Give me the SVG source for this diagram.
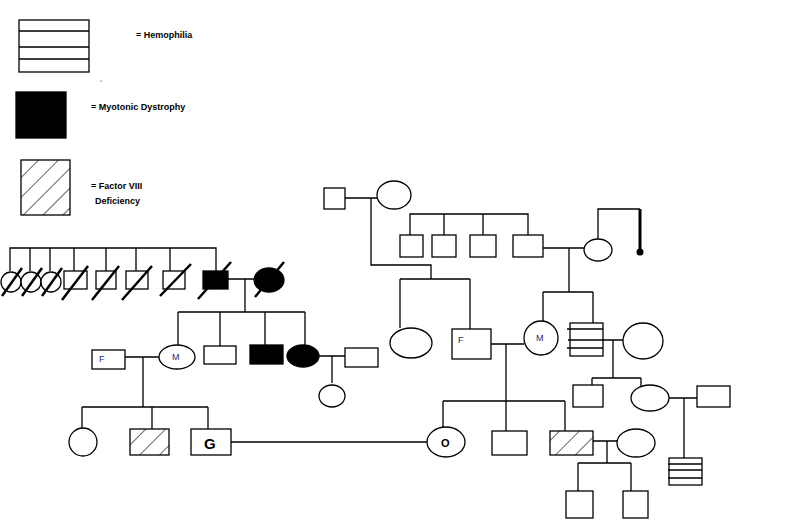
<svg xmlns="http://www.w3.org/2000/svg" width="792" height="526" viewBox="0 0 792 526">
<style>
.s{fill:#fff;stroke:#000;stroke-width:1.3}
.b{fill:#000;stroke:#000;stroke-width:1.3}
.h{fill:url(#hatch);stroke:#000;stroke-width:1.3}
.l{fill:none;stroke:#000;stroke-width:1.3}
.x{stroke:#000;stroke-width:2.5}
.t{font-family:"Liberation Sans",Arial,sans-serif;font-weight:bold;font-size:9px;fill:#000}
.q{font-family:"Liberation Sans",Arial,sans-serif;font-size:9px;fill:#1a2a7a}
</style>
<defs>
<pattern id="hatch" patternUnits="userSpaceOnUse" width="14" height="14" patternTransform="rotate(45)">
<rect width="14" height="14" fill="#fff"/>
<line x1="0" y1="0" x2="0" y2="14" stroke="#000" stroke-width="1.2"/>
</pattern>
</defs>
<g id="legend">
<rect class="s" x="19" y="20" width="70" height="52"/>
<path class="l" d="M19 31H89M19 47H89M19 59H89"/>
<text class="t" x="136" y="38">= Hemophilia</text>
<circle cx="101" cy="81" r="0.6" fill="#000"/>
<rect class="b" x="16" y="92" width="50" height="46"/>
<text class="t" x="91" y="110">= Myotonic Dystrophy</text>
<rect class="h" x="21" y="160" width="49" height="55"/>
<text class="t" x="91" y="189">= Factor VIII</text>
<text class="t" x="95" y="204">Deficiency</text>
</g>
<g id="connectors">
<path class="l" d="M10 271V248H216V271M30 248V271M50 248V271M74 248V271M106 248V271M136 248V271M170 248V271"/>
<path class="l" d="M228 279H254M245 279V312M178 312H305M178 312V345M220 312V346M265 312V345M305 312V345"/>
<path class="l" d="M319 356H345M332 356V383"/>
<path class="l" d="M125 357H159M143 357V407M82 407H208M82 407V428M152 407V429M208 407V429"/>
<path class="l" d="M231 442H427"/>
<path class="l" d="M345 198H377M371 198V265H431V279M400 279H470M400 279V328M470 279V329"/>
<path class="l" d="M410 235V214H528V235M444 214V235M483 214V235"/>
<path class="l" d="M543 248H584M569 248V292M543 292H593M543 292V321M593 292V323"/>
<path class="l" d="M598 239V209H640"/>
<line x1="640" y1="209" x2="640" y2="252" stroke="#000" stroke-width="3"/>
<circle cx="640" cy="252" r="3.5" fill="#000"/>
<path class="l" d="M603 340H623M613 340V378M592 378H641M592 378V385M641 378V386"/>
<path class="l" d="M669 398H697M684 398V458"/>
<path class="l" d="M491 344H524M506 344V401M443 401H565M443 401V427M506 401V431M565 401V431"/>
<path class="l" d="M593 441H617M607 441V463M578 463H631M578 463V491M631 463V491"/>
</g>
<g id="left-sibs">
<circle class="s" cx="11" cy="282" r="10"/>
<circle class="s" cx="31" cy="282" r="10"/>
<circle class="s" cx="51" cy="282" r="10"/>
<rect class="s" x="64" y="271" width="23" height="18"/>
<rect class="s" x="96" y="271" width="20" height="18"/>
<rect class="s" x="126" y="271" width="22" height="18"/>
<rect class="s" x="163" y="271" width="22" height="18"/>
<path class="x" d="M2 296L22 268M22 296L42 268M42 296L62 268M62 300L88 266M92 300L119 266M122 300L152 266M160 296L191 264"/>
</g>
<g id="gp-left">
<rect class="b" x="203" y="271" width="25" height="18"/>
<path class="x" d="M198 299L231 262"/>
<ellipse class="b" cx="269" cy="280" rx="15" ry="12"/>
<path class="x" d="M255 297L284 262"/>
</g>
<g id="gen2-left">
<ellipse class="s" cx="177" cy="357" rx="18" ry="12"/><text class="q" x="172" y="360" font-size="8">M</text>
<rect class="s" x="204" y="346" width="32" height="18"/>
<rect class="b" x="250" y="345" width="33" height="19"/>
<ellipse class="b" cx="303" cy="356" rx="16" ry="11"/>
<rect class="s" x="345" y="348" width="33" height="19"/>
<ellipse class="s" cx="332" cy="396" rx="13" ry="11"/>
<rect class="s" x="92" y="350" width="33" height="19"/><text class="q" x="99" y="362" font-size="8">F</text>
</g>
<g id="gen3-left">
<circle class="s" cx="83" cy="442" r="14"/>
<rect class="h" x="130" y="429" width="39" height="26"/>
<rect class="s" x="191" y="429" width="40" height="26"/>
<text x="204" y="449" font-family="Liberation Sans,Arial,sans-serif" font-weight="bold" font-size="15">G</text>
</g>
<g id="top-right">
<rect class="s" x="324" y="188" width="21" height="21"/>
<ellipse class="s" cx="394" cy="195" rx="17" ry="14"/>
<rect class="s" x="400" y="235" width="23" height="22"/>
<rect class="s" x="432" y="235" width="24" height="22"/>
<rect class="s" x="470" y="235" width="26" height="22"/>
<rect class="s" x="513" y="235" width="30" height="22"/>
<ellipse class="s" cx="598" cy="250" rx="14" ry="11"/>
</g>
<g id="gen2-right">
<ellipse class="s" cx="411" cy="343" rx="21" ry="15"/>
<rect class="s" x="452" y="329" width="39" height="30"/><text class="q" x="458" y="343">F</text>
<circle class="s" cx="541" cy="338" r="17"/><text class="q" x="536" y="341">M</text>
<rect class="s" x="570" y="323" width="33" height="33"/>
<path class="l" d="M567 329H603M568 340H603M567 348H603"/>
<ellipse class="s" cx="643" cy="341" rx="20" ry="18"/>
<rect class="s" x="573" y="385" width="30" height="22"/>
<ellipse class="s" cx="650" cy="398" rx="19" ry="13"/>
<rect class="s" x="697" y="386" width="33" height="21"/>
<rect class="s" x="669" y="458" width="33" height="27"/>
<path class="l" d="M668 464H702M668 470H702M668 478H702"/>
</g>
<g id="gen3-right">
<ellipse class="s" cx="446" cy="442" rx="19" ry="15"/>
<text x="441" y="447" font-family="Liberation Sans,Arial,sans-serif" font-weight="bold" font-size="11">O</text>
<rect class="s" x="492" y="431" width="35" height="24"/>
<rect class="h" x="550" y="431" width="43" height="24"/>
<ellipse class="s" cx="636" cy="443" rx="19" ry="14"/>
<rect class="s" x="566" y="491" width="27" height="27"/>
<rect class="s" x="623" y="491" width="25" height="27"/>
</g>
</svg>
